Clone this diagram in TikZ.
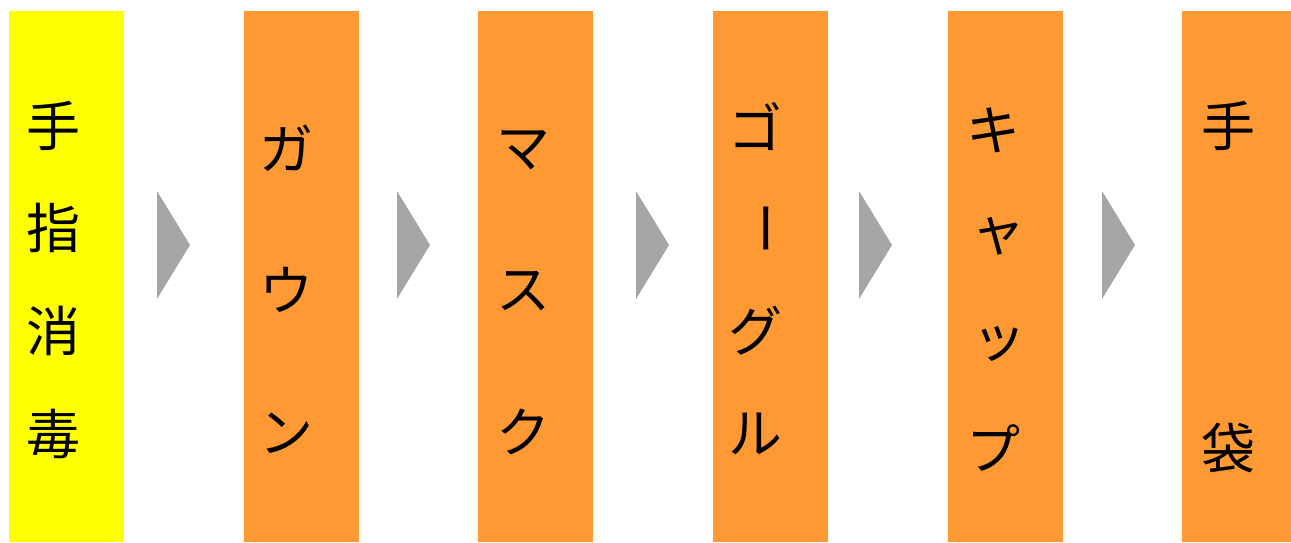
\documentclass[tikz,border=0pt]{standalone}
\usepackage{fontspec}
\newfontfamily\jpfont{Noto Sans CJK JP}
\usetikzlibrary{positioning}
\definecolor{stepyellow}{RGB}{255,255,0}
\definecolor{steporange}{RGB}{255,153,51}
\definecolor{chevgray}{RGB}{166,166,166}

\begin{document}
\begin{tikzpicture}[x=1pt,y=-1pt]
\tikzset{
  stepbar/.style={rectangle, anchor=north west, inner sep=0pt,
    minimum width=115pt, minimum height=531pt},
  glyph/.style={inner sep=0pt, font=\jpfont\fontsize{54}{54}\selectfont}
}
\useasboundingbox (0,0) rectangle (1291,542);
% bars
\node [stepbar, fill=stepyellow] (shudoku) at (9,11) {};
\node [stepbar, fill=steporange] (gown) at (244,11) {};
\node [stepbar, fill=steporange] (mask) at (478,11) {};
\node [stepbar, fill=steporange] (goggle) at (713,11) {};
\node [stepbar, fill=steporange] (cap) at (948,11) {};
\node [stepbar, fill=steporange] (glove) at (1182,11) {};
% chevrons
\foreach \x in {157,397,636,859,1102}
  \fill [chevgray] (\x,191) -- (\x+33,245) -- (\x,299) -- cycle;
% vertical labels
\foreach \c/\y [count=\i] in {手/126,指/228,消/331,毒/434}
  \node [glyph] (shudoku-\i) at (53,\y) {\c};
\foreach \c/\y [count=\i] in {ガ/148,ウ/290,ン/433}
  \node [glyph] (gown-\i) at (286,\y) {\c};
\foreach \c/\y [count=\i] in {マ/150,ス/291,ク/432}
  \node [glyph] (mask-\i) at (523,\y) {\c};
\node [glyph] (goggle-1) at (755,126) {ゴ};
\node [glyph, rotate=-90] (goggle-2) at (757,228) {ー};
\node [glyph] (goggle-3) at (755,331) {グ};
\node [glyph] (goggle-4) at (755,434) {ル};
\node [glyph] (cap-1) at (993,130) {キ};
\node [glyph] (cap-2) at (998,236) {ャ};
\node [glyph] (cap-3) at (999,344) {ッ};
\node [glyph] (cap-4) at (993,448) {プ};
\foreach \c/\y [count=\i] in {手/126,袋/448}
  \node [glyph] (glove-\i) at (1228,\y) {\c};
\end{tikzpicture}
\end{document}
